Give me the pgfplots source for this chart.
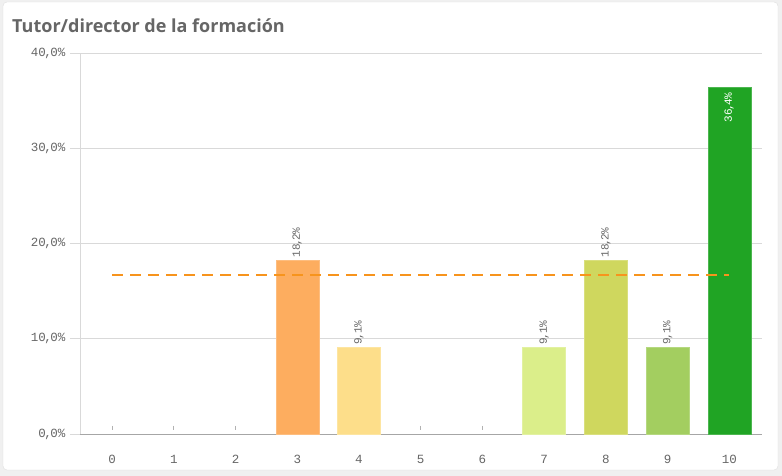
\documentclass[border=0pt]{standalone}
\usepackage{pgfplots}
\pgfplotsset{compat=1.18}
\usepackage{fontspec}
\setmainfont{Open Sans}
\newfontfamily\monof{Liberation Mono}
\newcommand{\cm}{\kern-1.5pt{,}\kern-1.5pt}
\definecolor{txtgray}{HTML}{666666}
\definecolor{c3}{HTML}{FDAD5F}
\definecolor{c4}{HTML}{FDDE8A}
\definecolor{c7}{HTML}{DBEE8A}
\definecolor{c8}{HTML}{CFD75E}
\definecolor{c9}{HTML}{A3CE60}
\definecolor{c10}{HTML}{20A424}
\definecolor{meanc}{HTML}{F7941D}
\begin{document}
\begin{tikzpicture}
\fill[gray!12] (0,0) rectangle (782pt,476pt);
\filldraw[fill=white, draw=gray!25, rounded corners=4pt] (3pt,6pt) rectangle (778pt,474pt);
\node[anchor=base west, text=txtgray, inner sep=0pt, font=\fontsize{18}{21}\selectfont\bfseries] at (12pt,443pt) {Tutor/director de la formación};
\begin{axis}[
    at={(80pt,42pt)}, anchor=south west,
    scale only axis, width=682pt, height=381pt,
    xmin=-0.52, xmax=10.53,
    ymin=0, ymax=40,
    /pgf/number format/assume math mode=true,
    xtick={0,1,2,3,4,5,6,7,8,9,10},
    xticklabels={0,1,2,3,4,5,6,7,8,9,10},
    ytick={0,10,20,30,40},
    yticklabels={0\cm0\%,10\cm0\%,20\cm0\%,30\cm0\%,40\cm0\%},
    ymajorgrids,
    grid style={gray!30, line width=0.8pt},
    axis x line*=bottom, axis y line*=left,
    x axis line style={gray!70, line width=0.8pt},
    y axis line style={gray!30, line width=0.8pt},
    xtick style={draw=none},
    ytick style={draw=gray!30, line width=0.8pt},
    tick align=outside, major tick length=10pt,
    tick label style={font=\monof\fontsize{12.5}{14}\selectfont, text=txtgray},
    xticklabel style={yshift=-8pt},
    yticklabel style={xshift=-1pt},
    every node near coord/.append style={rotate=90, anchor=west, font=\monof\fontsize{11}{13}\selectfont, text=txtgray, inner sep=3pt},
    nodes near coords={\pgfmathprintnumber[fixed,precision=1,fixed zerofill,set decimal separator={\cm},assume math mode=true]{\pgfplotspointmeta}\%},
    ybar, bar width=43pt, bar shift=0pt,
    clip=false,
]
\addplot[fill=c3, draw=c3!80!white] coordinates {(3,18.2)};
\addplot[fill=c4, draw=c4!80!white] coordinates {(4,9.1)};
\addplot[fill=c7, draw=c7!80!white] coordinates {(7,9.1)};
\addplot[fill=c8, draw=c8!80!white] coordinates {(8,18.2)};
\addplot[fill=c9, draw=c9!80!white] coordinates {(9,9.1)};
\addplot[fill=c10, draw=c10!80!white, every node near coord/.append style={anchor=east, text=white, inner sep=5pt}] coordinates {(10,36.4)};
\addplot[sharp plot, no marks, nodes near coords={}, draw=meanc, line width=2pt, dash pattern=on 11pt off 7pt] coordinates {(0,16.67) (10,16.67)};
\addplot[only marks, nodes near coords={}, mark=|, mark size=2pt, draw=gray!60, line width=0.8pt] coordinates {(0,0.65) (1,0.65) (2,0.65) (5,0.65) (6,0.65)};
\end{axis}
\end{tikzpicture}
\end{document}
